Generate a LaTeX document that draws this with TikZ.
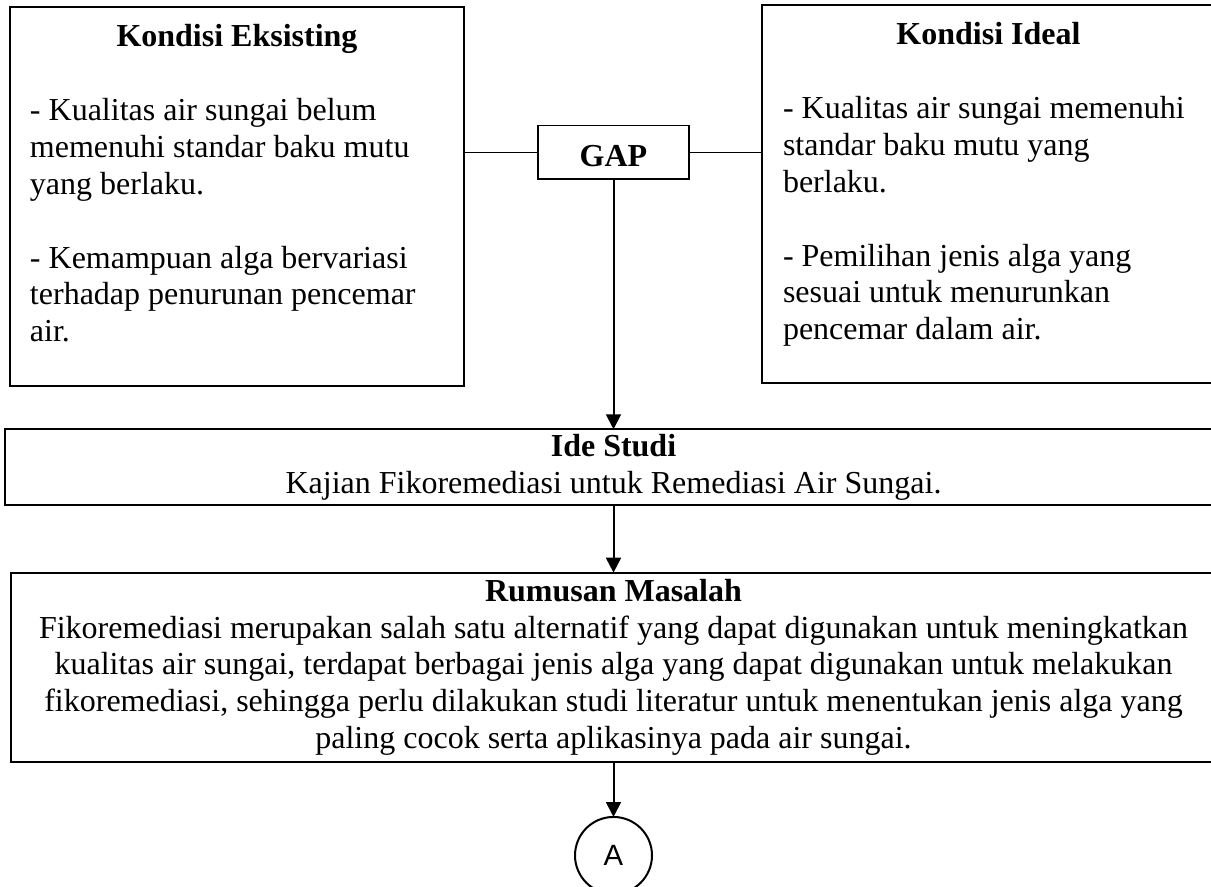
\documentclass[tikz,border=0pt]{standalone}
\usepackage{fontspec}
\setmainfont{Liberation Serif}
\newfontfamily\arialfont{Liberation Sans}
\usetikzlibrary{arrows.meta,positioning}
\newlength{\pxu}
\setlength{\pxu}{0.375pt}

\begin{document}
\begin{tikzpicture}[
  x=\pxu, y=-\pxu,
  every node/.style={font=\fontsize{12}{13.8}\selectfont,outer sep=0pt},
  panel/.style={rectangle,draw,line width=0.55pt,inner sep=0pt},
  wide/.style={rectangle,draw,line width=0.85pt,align=center,inner sep=0pt},
  head/.style={font=\fontsize{12}{13.8}\selectfont\bfseries,anchor=base,inner sep=0pt},
  body/.style={align=left,anchor=north west,inner sep=0pt},
  link/.style={line width=0.55pt},
  arrow/.style={-{Triangle[length=5.6pt,width=5.6pt]},line width=0.75pt}
]
  \useasboundingbox (0,0) rectangle (1211,887);
  % upper row
  \node[panel,minimum width=454\pxu,minimum height=379\pxu] (eks) at (237,196.5) {};
  \node[head] (eksHead) at (237,47) {Kondisi Eksisting};
  \node[body] (eksText) at (30,95.2) {\strut- Kualitas air sungai belum\\ memenuhi standar baku mutu\\ yang berlaku.\\[13.8pt]- Kemampuan alga bervariasi\\ terhadap penurunan pencemar\\ air.};
  \node[panel,minimum width=453\pxu,minimum height=378\pxu] (ideal) at (988.5,194) {};
  \node[head] (idealHead) at (988.5,45) {Kondisi Ideal};
  \node[body] (idealText) at (783,93.2) {\strut- Kualitas air sungai memenuhi\\ standar baku mutu yang\\ berlaku.\\[13.8pt]- Pemilihan jenis alga yang\\ sesuai untuk menurunkan\\ pencemar dalam air.};
  \node[panel,minimum width=151\pxu,minimum height=53.3\pxu,font=\fontsize{12}{13.8}\selectfont\bfseries,text height=10.8pt,text depth=0pt] (gap) at (613.5,152.3) {GAP};
  % lower chain
  \node[wide,minimum width=1217\pxu,minimum height=76\pxu,below=250.3\pxu of gap] (studi) {\textbf{Ide Studi}\\ Kajian Fikoremediasi untuk Remediasi Air Sungai.};
  \node[wide,minimum width=1205.6\pxu,minimum height=189.3\pxu,below=67.4\pxu of studi] (rumusan) {\textbf{Rumusan Masalah}\\ Fikoremediasi merupakan salah satu alternatif yang dapat digunakan untuk meningkatkan\\ kualitas air sungai, terdapat berbagai jenis alga yang dapat digunakan untuk melakukan\\ fikoremediasi, sehingga perlu dilakukan studi literatur untuk menentukan jenis alga yang\\ paling cocok serta aplikasinya pada air sungai.};
  \node[circle,draw,line width=0.75pt,minimum size=77\pxu,inner sep=0pt,font=\arialfont\fontsize{11}{13}\selectfont,below=55\pxu of rumusan] (a) {A};
  \draw[link] (gap.west) -- (gap.west -| eks.east);
  \draw[link] (gap.east) -- (gap.east -| ideal.west);
  \draw[arrow] (gap) -- (studi);
  \draw[arrow] (studi) -- (rumusan);
  \draw[arrow] (rumusan) -- (a);
\end{tikzpicture}
\end{document}
